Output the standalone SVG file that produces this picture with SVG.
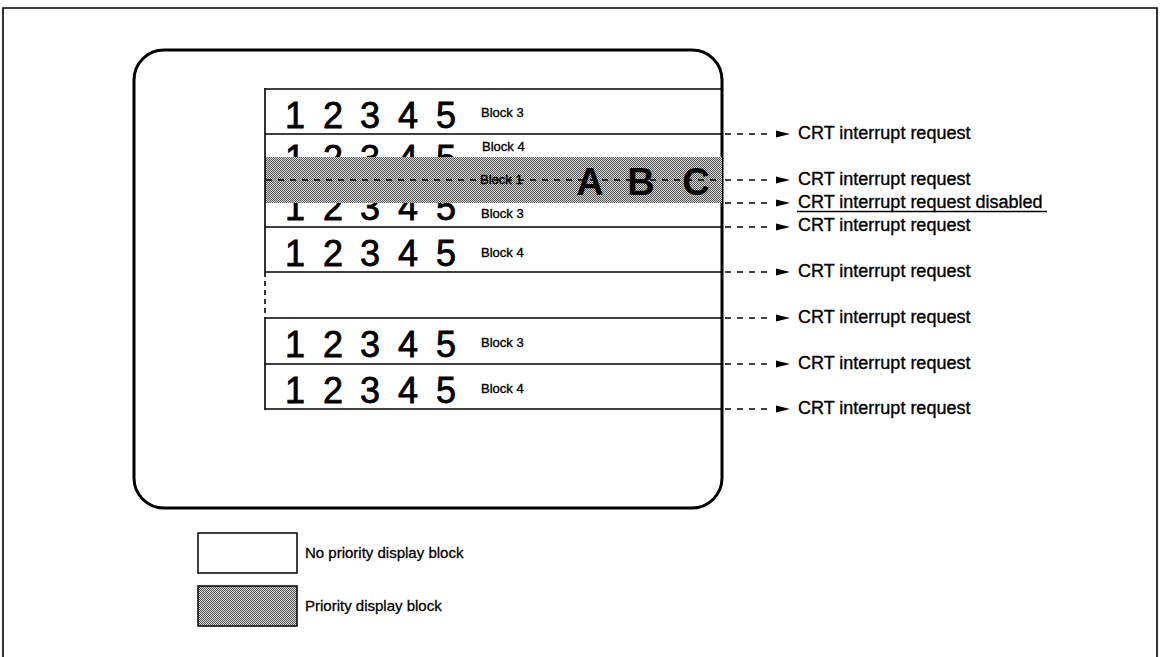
<svg xmlns="http://www.w3.org/2000/svg" width="1160" height="657" viewBox="0 0 1160 657">
<style>
.ln{stroke:#000;stroke-width:1.6;fill:none}
.dig{font-family:"Liberation Sans",Arial,sans-serif;font-size:36px;fill:#000;stroke:#000;stroke-width:0.8;text-anchor:middle}
.blk{font-family:"Liberation Sans",Arial,sans-serif;font-size:13px;fill:#000;stroke:#000;stroke-width:0.35}
.crt{font-family:"Liberation Sans",Arial,sans-serif;font-size:18px;fill:#000;stroke:#000;stroke-width:0.35}
.leg{font-family:"Liberation Sans",Arial,sans-serif;font-size:15px;fill:#000;stroke:#000;stroke-width:0.3}
.abc{font-family:"Liberation Sans",Arial,sans-serif;font-size:38px;font-weight:bold;fill:#000;text-anchor:middle}
.dash{stroke:#000;stroke-width:1.4;stroke-dasharray:6 6;fill:none}
</style>
<defs>
<pattern id="dots" width="2" height="2" patternUnits="userSpaceOnUse">
<rect width="2" height="2" fill="#d4d4d4"/>
<rect x="0" y="0" width="1" height="1" fill="#5a5a5a"/>
<rect x="1" y="1" width="1" height="1" fill="#5a5a5a"/>
</pattern>
<polygon id="ah" points="0,-3.5 14,0 0,3.5"/>
</defs>
<rect width="1160" height="657" fill="#fff"/>
<g id="frame">
<path d="M3,657 V8 H1157 V657" class="ln" stroke-width="2"/>
</g>
<g id="screen">
<rect x="134" y="50" width="588" height="458" rx="30" ry="30" fill="none" stroke="#000" stroke-width="3"/>
</g>
<g id="row1">
<text class="dig" x="295 333 370 408 446" y="128">12345</text>
<text class="blk" x="481" y="117">Block 3</text>
</g>
<g id="row2">
<text class="dig" x="295 333 370 408 446" y="171">12345</text>
<text class="blk" x="482" y="151">Block 4</text>
</g>
<g id="row4">
<text class="dig" x="295 333 370 408 446" y="220">12345</text>
<text class="blk" x="481" y="218">Block 3</text>
</g>
<g id="row3-priority">
<rect x="265" y="157" width="457" height="46" fill="url(#dots)"/>
<text class="blk" x="480" y="184">Block 1</text>
<line x1="266" y1="180" x2="722" y2="180" class="dash" stroke-dasharray="6 3"/>
<text class="abc" x="590" y="195">A</text>
<text class="abc" x="641" y="195">B</text>
<text class="abc" x="696" y="195">C</text>
</g>
<g id="row5">
<text class="dig" x="295 333 370 408 446" y="266">12345</text>
<text class="blk" x="481" y="257">Block 4</text>
</g>
<g id="row6">
<text class="dig" x="295 333 370 408 446" y="357">12345</text>
<text class="blk" x="481" y="347">Block 3</text>
</g>
<g id="row7">
<text class="dig" x="295 333 370 408 446" y="403">12345</text>
<text class="blk" x="481" y="393">Block 4</text>
</g>
<g id="grid">
<line x1="265" y1="89" x2="722" y2="89" class="ln"/>
<line x1="265" y1="134" x2="722" y2="134" class="ln"/>
<line x1="265" y1="227" x2="722" y2="227" class="ln"/>
<line x1="265" y1="272" x2="722" y2="272" class="ln"/>
<line x1="265" y1="318" x2="722" y2="318" class="ln"/>
<line x1="265" y1="364" x2="722" y2="364" class="ln"/>
<line x1="265" y1="409" x2="722" y2="409" class="ln"/>
<line x1="265" y1="88" x2="265" y2="272" class="ln"/>
<line x1="265" y1="272" x2="265" y2="318" class="ln" stroke-dasharray="5 4"/>
<line x1="265" y1="318" x2="265" y2="410" class="ln"/>
</g>
<g id="connectors">
<line x1="725" y1="134" x2="772" y2="134" class="dash"/><use href="#ah" x="776" y="134"/>
<line x1="725" y1="180" x2="772" y2="180" class="dash"/><use href="#ah" x="776" y="180"/>
<line x1="725" y1="203" x2="772" y2="203" class="dash"/><use href="#ah" x="776" y="203"/>
<line x1="725" y1="227" x2="772" y2="227" class="dash"/><use href="#ah" x="776" y="227"/>
<line x1="725" y1="272" x2="772" y2="272" class="dash"/><use href="#ah" x="776" y="272"/>
<line x1="725" y1="318" x2="772" y2="318" class="dash"/><use href="#ah" x="776" y="318"/>
<line x1="725" y1="364" x2="772" y2="364" class="dash"/><use href="#ah" x="776" y="364"/>
<line x1="725" y1="409" x2="772" y2="409" class="dash"/><use href="#ah" x="776" y="409"/>
</g>
<g id="labels">
<text class="crt" x="798" y="139">CRT interrupt request</text>
<text class="crt" x="798" y="185">CRT interrupt request</text>
<text class="crt" x="798" y="208">CRT interrupt request disabled</text>
<line x1="797" y1="211.5" x2="1047" y2="211.5" stroke="#000" stroke-width="1.5"/>
<text class="crt" x="798" y="231">CRT interrupt request</text>
<text class="crt" x="798" y="277">CRT interrupt request</text>
<text class="crt" x="798" y="323">CRT interrupt request</text>
<text class="crt" x="798" y="369">CRT interrupt request</text>
<text class="crt" x="798" y="414">CRT interrupt request</text>
</g>
<g id="legend-white">
<rect x="198" y="533" width="99" height="40" fill="#fff" stroke="#000" stroke-width="1.5"/>
<text class="leg" x="305" y="558">No priority display block</text>
</g>
<g id="legend-shaded">
<rect x="198" y="586" width="99" height="40" fill="url(#dots)" stroke="#000" stroke-width="1.5"/>
<text class="leg" x="305" y="611">Priority display block</text>
</g>
</svg>
